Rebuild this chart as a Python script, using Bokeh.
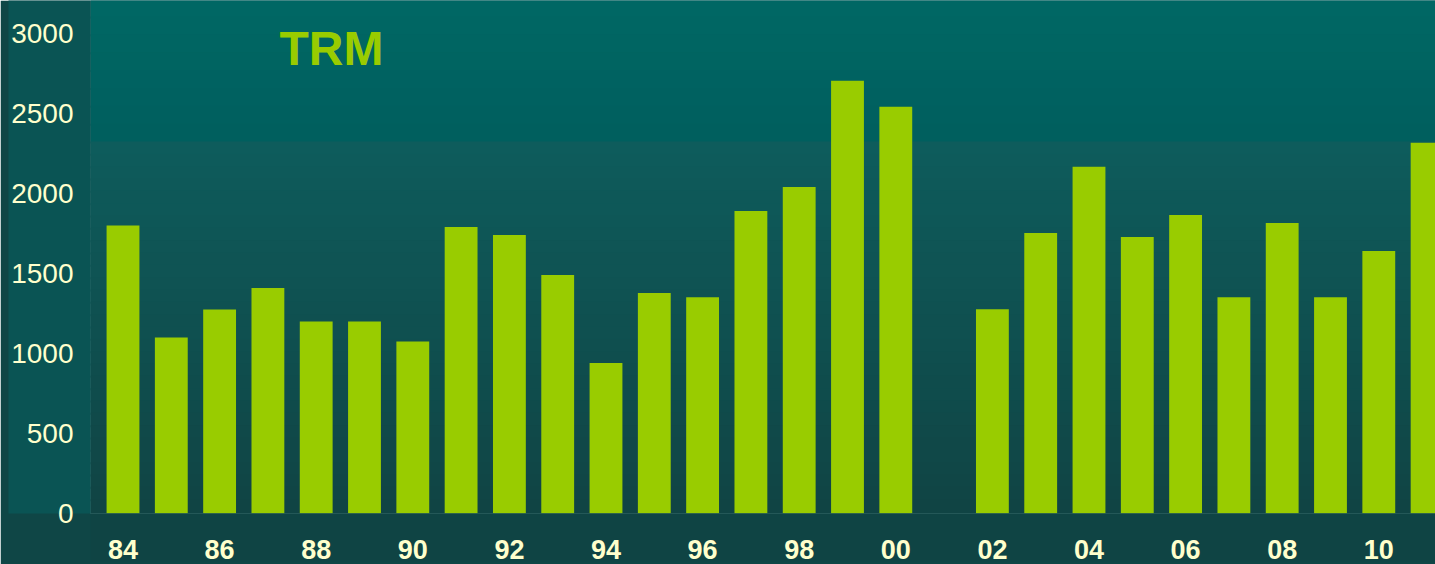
from bokeh.plotting import figure
from bokeh.models import BoxAnnotation, Label, FixedTicker
from bokeh.embed import file_html
from bokeh.resources import INLINE

# ---- data ----
years = [1984, 1985, 1986, 1987, 1988, 1989, 1990, 1991, 1992, 1993, 1994,
         1995, 1996, 1997, 1998, 1999, 2000, 2002, 2003, 2004, 2005,
         2006, 2007, 2008, 2009, 2010, 2011]
values = [1800, 1100, 1275, 1410, 1200, 1200, 1075, 1790, 1740, 1490, 940,
          1378, 1352, 1890, 2040, 2705, 2542, 1277, 1753, 2167, 1728,
          1866, 1352, 1816, 1352, 1641, 2317]
tick_years = [1984, 1986, 1988, 1990, 1992, 1994, 1996, 1998, 2000, 2002,
              2004, 2006, 2008, 2010]
y_ticks = [0, 500, 1000, 1500, 2000, 2500, 3000]
title_text = "TRM"

W, H = 1435, 564
FRAME_H = 513

p = figure(width=W, height=H, output_backend="svg", toolbar_location=None,
           x_range=(1984 - 0.673, 1984 + 27.174), y_range=(0, 3206),
           min_border_left=90, min_border_right=0, min_border_top=0,
           min_border_bottom=H - FRAME_H)

def lerp(c1, c2, t):
    return "#%02x%02x%02x" % tuple(int(round(a + (b - a) * t)) for a, b in zip(c1, c2))

# background gradient bands (screen units measured from frame bottom)
bands = []
STEP = 143
n1 = 8
for i in range(n1):
    t0 = i * STEP / n1
    t1 = (i + 1) * STEP / n1
    bands.append((t0, t1, lerp((0, 104, 100), (0, 94, 94), (i + 0.5) / n1)))
n2 = 30
for i in range(n2):
    t0 = STEP + i * (FRAME_H - STEP) / n2
    t1 = STEP + (i + 1) * (FRAME_H - STEP) / n2
    bands.append((t0, t1, lerp((14, 92, 92), (16, 68, 68), (i + 0.5) / n2)))

p.background_fill_color = "#0b5252"
p.border_fill_color = "#0f4646"
for t0, t1, c in bands:
    p.add_layout(BoxAnnotation(left=-5, right=W + 5, top=FRAME_H - t0 + 2, bottom=FRAME_H - t1,
                               left_units="screen", right_units="screen",
                               top_units="screen", bottom_units="screen",
                               fill_color=c, fill_alpha=1.0, line_alpha=0,
                               level="underlay"))

p.vbar(x=years, top=values, width=0.68, bottom=0, color="#99cc00", line_alpha=0)

p.xgrid.visible = False
p.ygrid.visible = False
p.outline_line_alpha = 0

for ax in (p.xaxis, p.yaxis):
    ax.axis_line_alpha = 0
    ax.major_tick_line_alpha = 0
    ax.minor_tick_line_alpha = 0
    ax.major_label_text_color = "#ffffcc"
    ax.major_label_text_font = "Liberation Sans"

yax = p.yaxis[0]
xax = p.xaxis[0]
if hasattr(yax, "background_fill_color"):
    yax.background_fill_color = "#0a5454"
    xax.background_fill_color = "#0f4444"

p.yaxis.ticker = FixedTicker(ticks=y_ticks)
p.yaxis.major_label_text_font_size = "28px"
p.yaxis.major_label_standoff = 11

p.xaxis.ticker = FixedTicker(ticks=tick_years)
p.xaxis.major_label_overrides = {y: str(y)[2:] for y in tick_years}
p.xaxis.major_label_text_font_size = "27px"
p.xaxis.major_label_text_font_style = "bold"
p.xaxis.major_label_standoff = 20

p.add_layout(Label(x=1984 + 3.240, y=2906, text=title_text,
                   text_font="Liberation Sans", text_font_size="48px",
                   text_font_style="bold", text_color="#99cc00",
                   text_baseline="alphabetic", text_align="left"))

open("out.html", "w").write(file_html(p, INLINE))
